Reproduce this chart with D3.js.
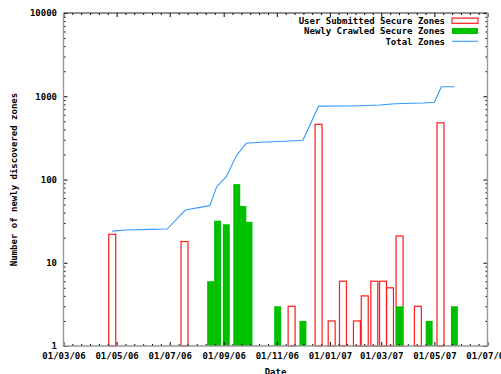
<!DOCTYPE html>
<html><head><meta charset="utf-8">
<script src="https://cdn.jsdelivr.net/npm/d3@7"></script>
<style>
body{margin:0;background:#fff}
svg text{font-family:"DejaVu Sans Mono","Liberation Mono",monospace;font-weight:bold;font-size:9px;fill:#000}
</style>
</head><body><svg id="c" width="501" height="374"></svg>
<script>
// ---- data ----
const xTickDates = ["2006-03-01","2006-05-01","2006-07-01","2006-09-01","2006-11-01","2007-01-01","2007-03-01","2007-05-01","2007-07-01"];
const yTickValues = [1,10,100,1000,10000];
const seriesNames = ["User Submitted Secure Zones","Newly Crawled Secure Zones","Total Zones"];

const userDates  = ["2006-04-26","2006-07-18","2006-11-18","2006-12-19","2007-01-03","2007-01-16","2007-02-01","2007-02-10","2007-02-21","2007-03-03","2007-03-11","2007-03-22","2007-04-12","2007-05-08"];
const userValues = [22,18,3,460,2,6,2,4,6,6,5,21,3,480];

const crawledDates  = ["2006-08-17","2006-08-25","2006-09-04","2006-09-16","2006-09-23","2006-09-30","2006-11-02","2006-12-01","2007-03-22","2007-04-25","2007-05-24"];
const crawledValues = [6,32,29,88,48,31,3,2,3,2,3];

const totalDates  = ["2006-04-26","2006-05-12","2006-06-10","2006-06-28","2006-07-19","2006-08-16","2006-08-24","2006-09-04","2006-09-16","2006-09-27","2006-10-13","2006-11-16","2006-12-01","2006-12-19","2007-01-28","2007-02-27","2007-03-17","2007-04-18","2007-05-01","2007-05-09","2007-05-24"];
const totalValues = [24,24.7,25.2,25.4,43,48.5,82,108,197,272,280,290,296,760,764,785,814,830,846,1303,1303];

const xDomain = ["2006-03-01","2007-07-01"];
const yDomain = [1,10000];
const barDays = 8;

// ---- layout ----
const W=501,H=374, L=63.5, R=487.5, T=13, B=346;
const parse = d3.timeParse("%Y-%m-%d");
const fmt = d3.timeFormat("%d/%m/%y");
const svg = d3.select("#c");

const x = d3.scaleTime().domain(xDomain.map(parse)).range([L,R]);
const y = d3.scaleLog().domain(yDomain).range([B,T]);

const user = userDates.map((d,i)=>({d:parse(d),v:userValues[i]}));
const crawled = crawledDates.map((d,i)=>({d:parse(d),v:crawledValues[i]}));
const total = totalDates.map((d,i)=>({d:parse(d),v:totalValues[i]}));

const bx0 = d=>x(d3.timeHour.offset(d,-barDays*12));
const bx1 = d=>x(d3.timeHour.offset(d,barDays*12));

// red outline boxes
svg.append("g").selectAll("rect").data(user).join("rect")
  .attr("x",d=>bx0(d.d)).attr("width",d=>bx1(d.d)-bx0(d.d))
  .attr("y",d=>y(d.v)).attr("height",d=>B-y(d.v))
  .attr("fill","none").attr("stroke","#ff1a1a").attr("stroke-width",1.2);

// green filled boxes
svg.append("g").selectAll("rect").data(crawled).join("rect")
  .attr("x",d=>bx0(d.d)).attr("width",d=>bx1(d.d)-bx0(d.d))
  .attr("y",d=>y(d.v)).attr("height",d=>B-y(d.v))
  .attr("fill","#00c000");

// total line
svg.append("path").datum(total)
  .attr("d",d3.line().x(d=>x(d.d)).y(d=>y(d.v)))
  .attr("fill","none").attr("stroke","#3399ff").attr("stroke-width",1.1);

// ---- axes ----
const majors = xTickDates.map(parse);
const minors = [];
for(let i=0;i<majors.length-1;i++){
  const a=+majors[i], b=+majors[i+1];
  for(let k=1;k<6;k++) minors.push(new Date(a+(b-a)*k/6));
}
const yMinors = [];
yTickValues.slice(0,-1).forEach(v=>{for(let k=2;k<10;k++) yMinors.push(v*k);});

function styleAxis(g){
  g.select(".domain").remove();
  g.selectAll(".tick line").attr("stroke","#000");
}
// bottom
svg.append("g").attr("transform",`translate(0,${B})`)
  .call(d3.axisBottom(x).tickValues(minors).tickSizeInner(-2).tickSizeOuter(0).tickFormat(""))
  .call(styleAxis);
svg.append("g").attr("transform",`translate(0,${B})`)
  .call(d3.axisBottom(x).tickValues(majors).tickSizeInner(-4).tickSizeOuter(0).tickPadding(7).tickFormat(fmt))
  .call(styleAxis)
  .selectAll("text").attr("font-family",null);
// top
svg.append("g").attr("transform",`translate(0,${T})`)
  .call(d3.axisTop(x).tickValues(minors).tickSizeInner(-2).tickSizeOuter(0).tickFormat(""))
  .call(styleAxis);
svg.append("g").attr("transform",`translate(0,${T})`)
  .call(d3.axisTop(x).tickValues(majors).tickSizeInner(-4).tickSizeOuter(0).tickFormat(""))
  .call(styleAxis);
// left
svg.append("g").attr("transform",`translate(${L},0)`)
  .call(d3.axisLeft(y).tickValues(yMinors).tickSizeInner(-2).tickSizeOuter(0).tickFormat(""))
  .call(styleAxis);
svg.append("g").attr("transform",`translate(${L},0)`)
  .call(d3.axisLeft(y).tickValues(yTickValues).tickSizeInner(-4).tickSizeOuter(0).tickPadding(6.5).tickFormat(d3.format("d")))
  .call(styleAxis);
// right
svg.append("g").attr("transform",`translate(${R},0)`)
  .call(d3.axisRight(y).tickValues(yMinors).tickSizeInner(-2).tickSizeOuter(0).tickFormat(""))
  .call(styleAxis);
svg.append("g").attr("transform",`translate(${R},0)`)
  .call(d3.axisRight(y).tickValues(yTickValues).tickSizeInner(-4).tickSizeOuter(0).tickFormat(""))
  .call(styleAxis);

// border
svg.append("line").attr("x1",L).attr("x2",R).attr("y1",T).attr("y2",T).attr("stroke","#222");
svg.append("line").attr("x1",L).attr("x2",L).attr("y1",T).attr("y2",B).attr("stroke","#999").attr("stroke-width",1.4);
svg.append("line").attr("x1",L).attr("x2",R).attr("y1",B).attr("y2",B).attr("stroke","#999").attr("stroke-width",1.4);
svg.append("line").attr("x1",R).attr("x2",R).attr("y1",T).attr("y2",B).attr("stroke","#999").attr("stroke-width",1.4);

// ---- labels ----
svg.append("text").attr("x",(L+R)/2).attr("y",375).attr("text-anchor","middle").text("Date");
svg.append("text").attr("transform",`translate(16.5,${(T+B)/2}) rotate(-90)`).attr("text-anchor","middle").text("Number of newly discovered zones");

// ---- legend ----
const lg = svg.append("g");
const rowsY = [20.7,31,41.3];
seriesNames.forEach((n,i)=>{
  lg.append("text").attr("x",445).attr("y",rowsY[i]+3.2).attr("text-anchor","end").text(n);
});
lg.append("rect").attr("x",452).attr("y",rowsY[0]-2.6).attr("width",26).attr("height",5.2)
  .attr("fill","none").attr("stroke","#ff1a1a").attr("stroke-width",1.2);
lg.append("rect").attr("x",452).attr("y",rowsY[1]-3).attr("width",26).attr("height",6).attr("fill","#00c000");
lg.append("line").attr("x1",452).attr("x2",478).attr("y1",rowsY[2]).attr("y2",rowsY[2]).attr("stroke","#3399ff").attr("stroke-width",1.1);
</script>
</body></html>
